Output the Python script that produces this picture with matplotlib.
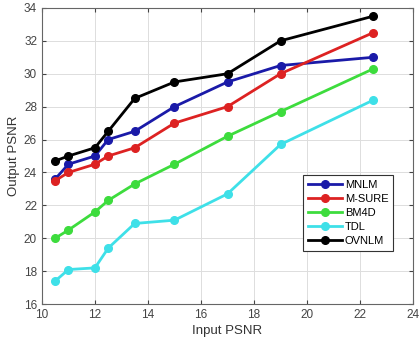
import matplotlib
matplotlib.use('Agg')
import matplotlib.pyplot as plt

# Data
input_psnr = [10.5, 11, 12, 12.5, 13.5, 15, 17, 19, 22.5]
mnlm = [23.6, 24.5, 25.0, 26.0, 26.5, 28.0, 29.5, 30.5, 31.0]
msure = [23.5, 24.0, 24.5, 25.0, 25.5, 27.0, 28.0, 30.0, 32.5]
bm4d = [20.0, 20.5, 21.6, 22.3, 23.3, 24.5, 26.2, 27.7, 30.3]
tdl = [17.4, 18.1, 18.2, 19.4, 20.9, 21.1, 22.7, 25.7, 28.4]
ovnlm = [24.7, 25.0, 25.5, 26.5, 28.5, 29.5, 30.0, 32.0, 33.5]

series = [
    ('MNLM', mnlm, '#1a1aa8'),
    ('M-SURE', msure, '#dd2222'),
    ('BM4D', bm4d, '#3ddc3d'),
    ('TDL', tdl, '#3ee0e8'),
    ('OVNLM', ovnlm, '#000000'),
]

plt.rcParams['font.family'] = ['Liberation Sans', 'DejaVu Sans']
fig = plt.figure(figsize=(4.19, 3.44), dpi=100)
ax = fig.add_axes([0.100, 0.116, 0.886, 0.861])

for name, vals, color in series:
    ax.plot(input_psnr, vals, color=color, linewidth=2, marker='o',
            markersize=5.5, label=name)

ax.set_xlim(10, 24)
ax.set_ylim(16, 34)
ax.set_xticks(range(10, 25, 2))
ax.set_yticks(range(16, 35, 2))
ax.grid(True, color='#dddddd', linewidth=0.7)
ax.set_axisbelow(True)
ax.tick_params(direction='in', top=True, right=True, labelsize=8.5,
               colors='#444444', length=3)
for sp in ax.spines.values():
    sp.set_color('#666666')
    sp.set_linewidth(0.8)

ax.set_xlabel('Input PSNR', fontsize=9.5, color='#333333', labelpad=3)
ax.set_ylabel('Output PSNR', fontsize=9.5, color='#333333', labelpad=3)

leg = ax.legend(loc='lower right', bbox_to_anchor=(0.962, 0.162), fontsize=8,
                fancybox=False, framealpha=1, edgecolor='#333333',
                handlelength=3.0, borderpad=0.45, labelspacing=0.35,
                handletextpad=0.3)
leg.get_frame().set_linewidth(0.8)

fig.savefig('out.png', dpi=100)
